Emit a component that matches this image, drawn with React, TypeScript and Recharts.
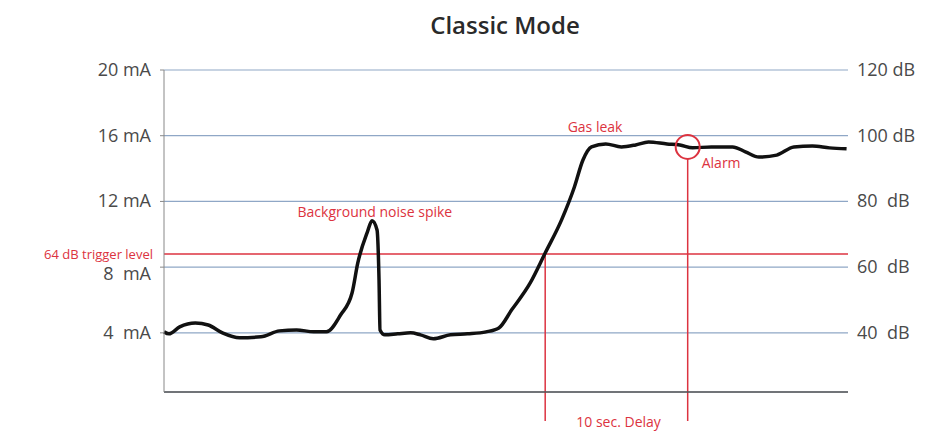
import React from "react"
import {
  LineChart,
  Line,
  XAxis,
  YAxis,
  CartesianGrid,
  ReferenceLine,
  ReferenceDot,
} from "recharts"

// sensor reading over time (seconds, dB)
const timeSec = [
  0, 0.35, 1.1, 2.2, 3.1, 4.1, 5.3, 6.8, 8.1, 9.3, 10.5, 11.4, 12.4, 13.2, 13.6,
  14.25, 14.6, 14.95, 15.09, 15.16, 15.5, 16.4, 17.3, 18.0, 18.9, 20.1, 21.3,
  22.6, 23.5, 24.4, 25.7, 26.75, 27.9, 28.8, 29.4, 30.0, 31.0, 32.1, 33.1, 34.0,
  35.3, 36.2, 37.1, 38.4, 39.9, 40.8, 41.75, 43.0, 44.2, 45.5, 46.7, 47.9,
]
const levelDb = [
  40.3, 39.7, 41.8, 43.0, 42.4, 40.0, 38.5, 38.8, 40.6, 40.9, 40.3, 40.3, 45.5,
  52.2, 61.3, 70.4, 74.1, 71.3, 56.1, 40.9, 39.4, 39.7, 40.0, 39.4, 38.2, 39.4,
  39.7, 40.3, 41.5, 47.0, 55.2, 64.3, 74.4, 84.4, 92.6, 96.6, 97.5, 96.6, 97.2,
  98.1, 97.5, 97.2, 96.3, 96.6, 96.6, 95.1, 93.5, 94.1, 96.6, 96.9, 96.3, 96.0,
]

const mATicks = [4, 8, 12, 16, 20]
const mALabels = ["4  mA", "8  mA", "12 mA", "16 mA", "20 mA"]
const dbTicks = [40, 60, 80, 100, 120]
const dbLabels = ["40  dB", "60  dB", "80  dB", "100 dB", "120 dB"]

const triggerDb = 64
const triggerSec = 26.75
const alarmSec = 36.75
const alarmDb = 96.6
const delayBottomDb = 13.2
const circleBottomDb = 93.0

const notes = [
  { text: "Background noise spike", t: 14.8, db: 76.8 },
  { text: "Gas leak", t: 30.25, db: 102.7 },
  { text: "Alarm", t: 39.1, db: 91.7 },
  { text: "10 sec. Delay", t: 31.9, db: 12.9 },
]

const data = timeSec.map((t, i) => ({ t, db: levelDb[i] }))

const FONT = "'Open Sans', sans-serif"
const RED = "#dc3340"
const GRID = "#8fa7c6"

const LeftTick = (props: any) => {
  const { x, y, payload } = props
  const i = mATicks.indexOf(payload.value)
  const shift = payload.value === 8 ? 13 : 6
  return (
    <text x={x} y={y + shift} textAnchor="end" fill="#4a4a4a" fontSize={18}
      fontFamily={FONT} style={{ whiteSpace: "pre" }}>
      {mALabels[i]}
    </text>
  )
}

const RightTick = (props: any) => {
  const { x, y, payload } = props
  const i = dbTicks.indexOf(payload.value)
  return (
    <text x={x} y={y + 6} textAnchor="start" fill="#4a4a4a" fontSize={18}
      fontFamily={FONT} style={{ whiteSpace: "pre" }}>
      {dbLabels[i]}
    </text>
  )
}

const NoteLabel = (text: string) => (props: any) => {
  const { viewBox } = props
  return (
    <text x={viewBox.x + viewBox.width / 2} y={viewBox.y + viewBox.height / 2 + 5}
      textAnchor="middle" fill={RED} fontSize={14} fontFamily={FONT}>
      {text}
    </text>
  )
}

export default function App() {
  return (
    <div style={{ position: "absolute", left: 0, top: 0, width: 935, height: 434, background: "#fff" }}>
      <div style={{
        position: "absolute", left: 0, width: 1010, top: 8, textAlign: "center",
        fontFamily: FONT, fontSize: 24, fontWeight: 600, color: "#2a2a2a",
      }}>
        Classic Mode
      </div>
      <LineChart width={935} height={434} data={data}
        margin={{ top: 70, right: 0, bottom: 0, left: 64 }}>
        <CartesianGrid yAxisId="mA" vertical={false} stroke={GRID} strokeWidth={1.2} />
        <XAxis dataKey="t" type="number" domain={[0, 48]} height={42} tick={false}
          tickLine={false} axisLine={{ stroke: "#555", strokeWidth: 1.5 }} />
        <YAxis yAxisId="mA" orientation="left" width={100} domain={[0.4, 20]}
          ticks={mATicks} allowDataOverflow tickSize={4} tickMargin={9}
          tickLine={{ stroke: "#888" }} axisLine={{ stroke: "#888" }} tick={LeftTick} />
        <YAxis yAxisId="db" orientation="right" width={87} domain={[22, 120]}
          ticks={dbTicks} allowDataOverflow tickSize={0} tickMargin={9}
          tickLine={false} axisLine={false} tick={RightTick} />
        <ReferenceLine yAxisId="db" y={triggerDb} stroke={RED} strokeWidth={1.5}
          label={{ value: "64 dB trigger level", position: "left", offset: 11, fill: RED, fontSize: 13, fontFamily: FONT }} />
        <ReferenceLine yAxisId="db" ifOverflow="visible" stroke={RED} strokeWidth={1.5}
          segment={[{ x: triggerSec, y: triggerDb }, { x: triggerSec, y: delayBottomDb }]} />
        <ReferenceLine yAxisId="db" ifOverflow="visible" stroke={RED} strokeWidth={1.5}
          segment={[{ x: alarmSec, y: circleBottomDb }, { x: alarmSec, y: delayBottomDb }]} />
        <Line yAxisId="db" type="monotone" dataKey="db" stroke="#111" strokeWidth={3.5}
          dot={false} isAnimationActive={false} />
        <ReferenceDot yAxisId="db" x={alarmSec} y={alarmDb} r={12} fill="none"
          stroke={RED} strokeWidth={2} />
        {notes.map((n) => (
          <ReferenceDot key={n.text} yAxisId="db" x={n.t} y={n.db} r={0} ifOverflow="visible"
            fill="none" stroke="none" label={NoteLabel(n.text)} />
        ))}
      </LineChart>
    </div>
  )
}
